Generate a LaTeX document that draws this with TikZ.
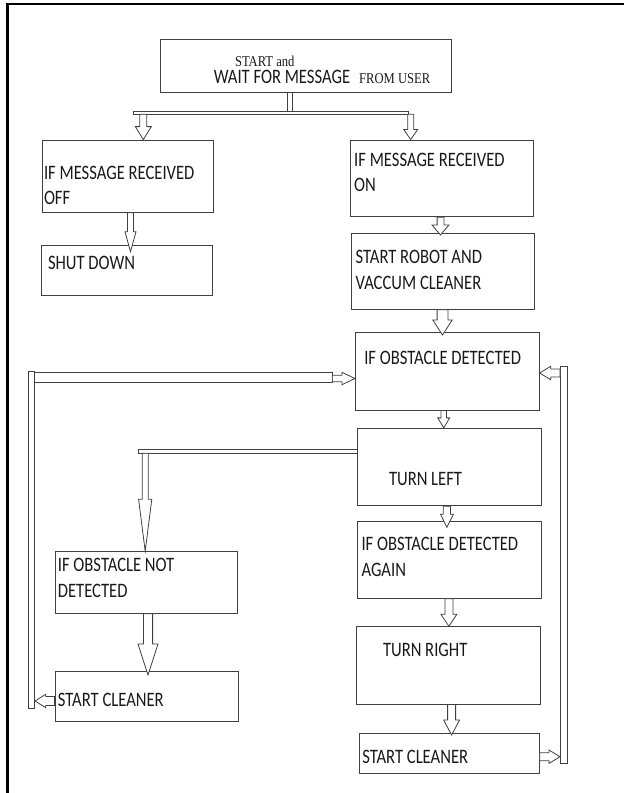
\documentclass[tikz,border=0pt]{standalone}
\usepackage{fontspec}
\newfontfamily\lbl[FakeStretch=0.81]{Carlito}
\newfontfamily\serfnt[FakeStretch=0.84]{Liberation Serif}
\usetikzlibrary{calc}
% hollow block arrow: from, to, shaft half width, head half width, head length
\newcommand{\blockarrow}[6][]{%
  \path (#2) coordinate (ba) (#3) coordinate (bb);
  \path ($(bb)!#6!(ba)$) coordinate (bh);
  \draw[arrowline,#1] ($(ba)!#4!90:(bb)$) -- ($(bh)!#4!90:(bb)$) -- ($(bh)!#5!90:(bb)$) -- (bb)
    -- ($(bh)!#5!-90:(bb)$) -- ($(bh)!#4!-90:(bb)$) -- ($(ba)!#4!-90:(bb)$) -- cycle;}

\begin{document}
\begin{tikzpicture}[x=1pt,y=-1pt,
  box/.style={draw=black!75, line width=0.9pt, rectangle, inner sep=0pt},
  txt/.style={inner sep=0pt, anchor=west, align=left, text=black!90, font=\lbl\fontsize{20.5}{25.5}\selectfont},
  serif/.style={font=\serfnt\fontsize{15}{18}\selectfont},
  arrowline/.style={draw=black!75, line width=0.8pt, fill=white, line join=miter},
  bar/.style={draw=black!75, line width=0.8pt, fill=white}]
\useasboundingbox (0,0) rectangle (624,793);
\draw[line width=2.5pt] (7.4,793) -- (7.4,4) -- (624,4);
% boxes
\node[box, minimum width=291.3, minimum height=53.3] (start) at (306,65.6) {};
\node[box, minimum width=171.1, minimum height=72.3] (off) at (128.2,176.2) {};
\node[box, minimum width=183, minimum height=76.7] (on) at (441.7,178.3) {};
\node[box, minimum width=170.3, minimum height=49.3] (shut) at (127,270.3) {};
\node[box, minimum width=183, minimum height=76] (robot) at (442.9,271.3) {};
\node[box, minimum width=183.8, minimum height=77.3] (obs) at (447.3,371.3) {};
\node[box, minimum width=183.9, minimum height=77.4] (left) at (449.3,467) {};
\node[box, minimum width=183.9, minimum height=76.6] (again) at (449.3,560) {};
\node[box, minimum width=183.5, minimum height=77.3] (right) at (448.3,665.3) {};
\node[box, minimum width=179.9, minimum height=40] (clean2) at (449.3,753.3) {};
\node[box, minimum width=181.9, minimum height=61.6] (notdet) at (146.7,582.5) {};
\node[box, minimum width=183.9, minimum height=50] (clean1) at (146.9,696.7) {};
% texts
\node[txt, serif] (t0) at (234.8,61) {START and};
\node[txt] (t1) at (213.7,77) {WAIT FOR MESSAGE\hspace{9pt}{\serfnt\fontsize{15}{18}\selectfont FROM USER}};
\node[txt] (t2) at (43.8,185.5) {IF MESSAGE RECEIVED\\OFF};
\node[txt] (t3) at (354,172.5) {IF MESSAGE RECEIVED\\ON};
\node[txt] (t4) at (47.8,263.3) {SHUT DOWN};
\node[txt] (t5) at (355.4,270) {START ROBOT AND\\VACCUM CLEANER};
\node[txt] (t6) at (364.1,358.3) {IF OBSTACLE DETECTED};
\node[txt] (t7) at (388.8,479.3) {TURN LEFT};
\node[txt] (t8) at (57.7,578) {IF OBSTACLE NOT\\DETECTED};
\node[txt] (t9) at (57.7,700) {START CLEANER};
\node[txt] (t10) at (361.3,557) {IF OBSTACLE DETECTED\\AGAIN};
\node[txt] (t11) at (382.8,650) {TURN RIGHT};
\node[txt] (t12) at (362.1,757.3) {START CLEANER};
% split after start
\draw[bar] (start.south -| 287.3,0) rectangle (292.5,111);
\draw[bar] (133.3,111) rectangle (408.7,114.3);
\blockarrow{143.3,114.3}{off.north -| 143.3,0}{3.5pt}{8pt}{13pt}
\blockarrow{410.7,114.3}{on.north -| 410.7,0}{3pt}{7pt}{10pt}
% main chain
\blockarrow{off.south -| 130.5,0}{130.5,251.7}{3pt}{5.5pt}{20pt}
\blockarrow{on.south -| 440.5,0}{440.5,235}{3.4pt}{8.4pt}{10pt}
\blockarrow{robot.south -| 442.5,0}{442.5,335}{5.4pt}{9.7pt}{15pt}
\blockarrow{obs.south -| 443.7,0}{left.north -| 443.7,0}{2.8pt}{6pt}{10pt}
\blockarrow{left.south -| 446.9,0}{446.9,527.3}{3.6pt}{6.4pt}{13pt}
\blockarrow{again.south -| 448.9,0}{right.north -| 448.9,0}{4pt}{8pt}{12pt}
\blockarrow{right.south -| 451.6,0}{451.6,735}{4pt}{8pt}{15pt}
% branch from turn left
\draw[bar] (138,449.3) rectangle (left.west |- 0,453.3);
\blockarrow{145.2,453.3}{notdet.north -| 145.2,0}{3pt}{6.6pt}{52pt}
\blockarrow{notdet.south -| 148,0}{148,675}{4.6pt}{10pt}{31pt}
% loop on the left
\draw[bar] (27.9,371.7) rectangle (34.6,708.3);
\draw[bar] (34.6,372.7) rectangle (332.3,382.3);
\blockarrow{clean1.west |- 0,701}{35,701}{4.5pt}{6.7pt}{10.8pt}
\blockarrow{332.3,378.5}{obs.west |- 0,378.5}{3.3pt}{6.2pt}{13pt}
% loop on the right
\draw[bar] (560,366) rectangle (567,763);
\blockarrow{clean2.east |- 0,756.7}{560,756.7}{4pt}{6.7pt}{11pt}
\blockarrow{560,373}{obs.east |- 0,373}{4pt}{6.7pt}{11pt}
\end{tikzpicture}
\end{document}
